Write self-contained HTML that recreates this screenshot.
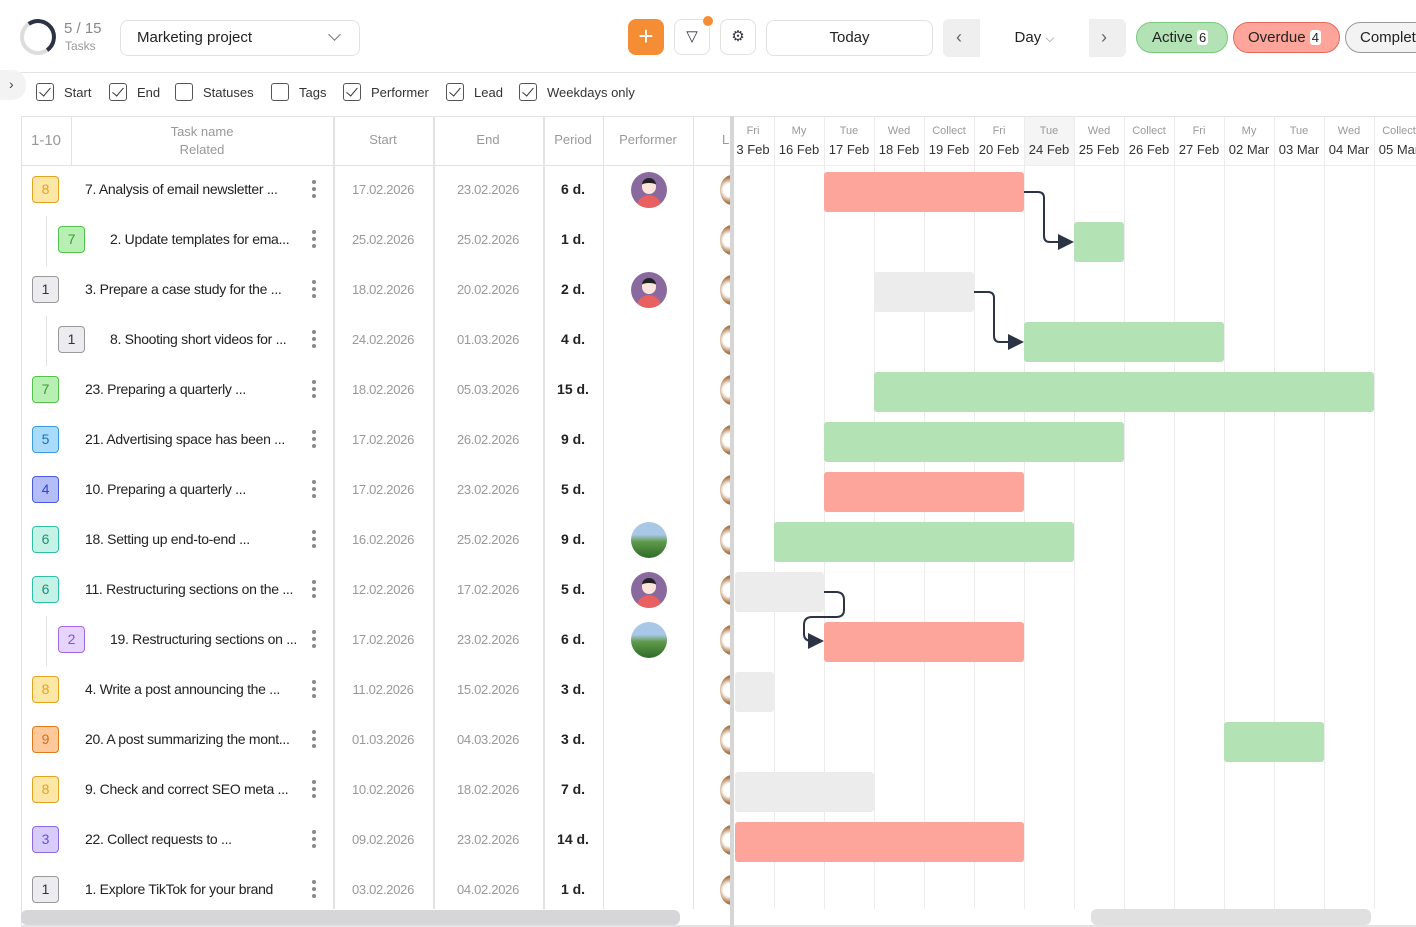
<!DOCTYPE html>
<html><head><meta charset="utf-8"><style>
*{box-sizing:border-box;margin:0;padding:0}
body{width:1416px;height:927px;background:#fff;font-family:"Liberation Sans",sans-serif;color:#222;position:relative;overflow:hidden}
.a{position:absolute}
.btn{position:absolute;border:1px solid #e2e2e2;border-radius:8px;background:#fff}
.cb{position:absolute;top:83px;width:18px;height:18px;border:1.5px solid #555;border-radius:3px}
.cb.on::after{content:"";position:absolute;left:5px;top:1px;width:5px;height:10px;border:solid #333;border-width:0 1.5px 1.5px 0;transform:rotate(40deg)}
.cbl{position:absolute;top:85px;font-size:13px;color:#333}
.vl{position:absolute;width:1px;background:#e3e3e3}
.hd{position:absolute;font-size:13px;color:#999;text-align:center}
.badge{position:absolute;width:27px;height:27px;border-radius:4px;border:1px solid;font-size:14px;text-align:center;line-height:25px}
.name{position:absolute;font-size:14px;color:#222;white-space:nowrap;letter-spacing:-0.3px}
.dt{position:absolute;font-size:13px;color:#999;text-align:center;letter-spacing:-0.3px}
.per{position:absolute;font-size:14px;color:#222;text-align:center;width:60px;left:543px;font-weight:600}
.dots{position:absolute;width:4px;left:312px}
.dots i{display:block;width:4px;height:4px;border-radius:2px;background:#888;margin-bottom:3px}
.bar{position:absolute;height:40px;border-radius:3px}
.pk{background:#fda59a}.gr{background:#b3e2b5}.gy{background:#ececec}
.gh{position:absolute;top:124px;width:50px;text-align:center;font-size:11px;color:#999;line-height:15px}
.gh b{display:block;font-weight:normal;font-size:13px;color:#333;margin-top:3px}
.leadw{position:absolute;left:720px;width:10px;height:30px;overflow:hidden}
.lead{position:absolute;left:0;top:0;width:24px;height:30px;border-radius:50%;background:radial-gradient(circle at 40% 50%,#fff 30%,#b07a4a 60%,#7a4c28)}
</style></head><body>
<div class="a" style="left:20px;top:19px;width:36px;height:36px;border-radius:50%;border:4px solid #ddd"></div>
<div class="a" style="left:20px;top:19px;width:36px;height:36px;border-radius:50%;border:4px solid transparent;border-top-color:#2b3344;border-right-color:#2b3344;transform:rotate(10deg)"></div>
<div class="a" style="left:64px;top:20px;font-size:15px;color:#888">5 / 15</div>
<div class="a" style="left:65px;top:39px;font-size:12px;color:#999">Tasks</div>
<div class="btn" style="left:120px;top:20px;width:240px;height:36px"></div>
<div class="a" style="left:137px;top:29px;font-size:15px;color:#222">Marketing project</div>
<div class="a" style="left:330px;top:30px;width:9px;height:9px;border:solid #777;border-width:0 1.3px 1.3px 0;transform:rotate(45deg)"></div>
<div class="a" style="left:628px;top:19px;width:36px;height:36px;border-radius:8px;background:#f58d34;color:#fff;font-size:26px;text-align:center;line-height:34px">+</div>
<div class="btn" style="left:674px;top:19px;width:36px;height:36px;text-align:center;line-height:34px;font-size:15px;color:#334">&#x25BD;</div>
<div class="a" style="left:703px;top:16px;width:10px;height:10px;border-radius:50%;background:#f58d34"></div>
<div class="btn" style="left:720px;top:19px;width:36px;height:36px;text-align:center;line-height:34px;font-size:15px;color:#334">&#x2699;</div>
<div class="btn" style="left:766px;top:20px;width:167px;height:36px;text-align:center;line-height:34px;font-size:15px">Today</div>
<div class="a" style="left:943px;top:19px;width:183px;height:38px;border-radius:6px;background:#efefef"></div>
<div class="a" style="left:980px;top:19px;width:109px;height:38px;background:#fff;text-align:center;line-height:37px;font-size:15px">Day <span style="color:#888;font-size:12px">&#x2335;</span></div>
<div class="a" style="left:956px;top:27px;font-size:18px;color:#666">&#x2039;</div>
<div class="a" style="left:1101px;top:27px;font-size:18px;color:#666">&#x203A;</div>
<div class="a" style="left:1136px;top:22px;width:92px;height:31px;border-radius:16px;background:#b3e2b5;border:1px solid #7cc77f;font-size:15px;line-height:29px;padding-left:15px">Active <span style="background:#fff;border-radius:3px;padding:0 2px;font-size:13px">6</span></div>
<div class="a" style="left:1233px;top:22px;width:107px;height:31px;border-radius:16px;background:#fda59a;border:1px solid #e06b5d;font-size:15px;line-height:29px;padding-left:14px">Overdue <span style="background:#fff;border-radius:3px;padding:0 2px;font-size:13px">4</span></div>
<div class="a" style="left:1345px;top:22px;width:100px;height:31px;border-radius:16px;background:#f3f3f3;border:1px solid #999;font-size:15px;line-height:29px;padding-left:14px">Complete</div>
<div class="a" style="left:20px;top:72px;width:1396px;height:1px;background:#e3e3e3"></div>
<div class="a" style="left:0;top:70px;width:26px;height:30px;border-radius:0 14px 14px 0;background:#f3f3f3;font-size:14px;line-height:28px;padding-left:9px;color:#444">&#x203A;</div>
<div class="cb on" style="left:36px"></div><div class="cbl" style="left:64px">Start</div>
<div class="cb on" style="left:109px"></div><div class="cbl" style="left:137px">End</div>
<div class="cb" style="left:175px"></div><div class="cbl" style="left:203px">Statuses</div>
<div class="cb" style="left:271px"></div><div class="cbl" style="left:299px">Tags</div>
<div class="cb on" style="left:343px"></div><div class="cbl" style="left:371px">Performer</div>
<div class="cb on" style="left:446px"></div><div class="cbl" style="left:474px">Lead</div>
<div class="cb on" style="left:519px"></div><div class="cbl" style="left:547px">Weekdays only</div>
<div class="vl" style="left:21px;top:116px;height:810px"></div>
<div class="a" style="left:21px;top:116px;width:1395px;height:1px;background:#e3e3e3"></div>
<div class="a" style="left:21px;top:165px;width:712px;height:1px;background:#e3e3e3"></div>
<div class="vl" style="left:71px;top:116px;height:49px"></div>
<div class="vl" style="left:333px;top:116px;height:793px;width:2px"></div>
<div class="vl" style="left:433px;top:116px;height:793px;width:2px"></div>
<div class="vl" style="left:543px;top:116px;height:793px;width:2px"></div>
<div class="vl" style="left:603px;top:116px;height:793px"></div>
<div class="vl" style="left:693px;top:116px;height:793px"></div>
<div class="hd" style="left:21px;top:132px;width:50px;font-size:15px">1-10</div>
<div class="hd" style="left:71px;top:123px;width:262px;line-height:18px">Task name<br>Related</div>
<div class="hd" style="left:333px;top:132px;width:100px">Start</div>
<div class="hd" style="left:433px;top:132px;width:110px">End</div>
<div class="hd" style="left:543px;top:132px;width:60px">Period</div>
<div class="hd" style="left:603px;top:132px;width:90px">Performer</div>
<div class="hd" style="left:722px;top:132px">L</div>
<div class="a" style="left:1024px;top:117px;width:50px;height:48px;background:#f5f5f5"></div>
<div class="a" style="left:735px;top:165px;width:681px;height:1px;background:#eee"></div>
<div id="g"></div>
<div class="vl" style="left:46px;top:216px;height:50px"></div>
<div class="vl" style="left:46px;top:316px;height:50px"></div>
<div class="vl" style="left:46px;top:616px;height:50px"></div>
<div class="a" style="left:21px;top:910px;width:659px;height:15px;border-radius:6px;background:#d6d6d9"></div>
<div class="a" style="left:1091px;top:909px;width:280px;height:16px;border-radius:6px;background:#e0e0e0"></div>
<div class="a" style="left:21px;top:925px;width:1395px;height:2px;background:#e3e3e3"></div>
<svg class="a" style="left:0;top:0" width="1416" height="927">
<defs><marker id="ar" markerWidth="8" markerHeight="8" refX="7" refY="4" orient="auto"><path d="M0,0L8,4L0,8z" fill="#2b3344"/></marker></defs>
<g fill="none" stroke="#2b3344" stroke-width="2">
<path d="M1024,192H1038Q1044,192 1044,198V236Q1044,242 1050,242H1072" marker-end="url(#ar)"/>
<path d="M974,292H988Q994,292 994,298V336Q994,342 1000,342H1022" marker-end="url(#ar)"/>
<path d="M824,592H836Q844,592 844,600V610Q844,617 836,617H812Q804,617 804,625V634Q804,641 812,641H822" marker-end="url(#ar)"/>
</g></svg>
<script>
var g=document.getElementById('g'),h='';
var cols=[[735,'Fri','3 Feb'],[774,'My','16 Feb'],[824,'Tue','17 Feb'],[874,'Wed','18 Feb'],[924,'Collect','19 Feb'],[974,'Fri','20 Feb'],[1024,'Tue','24 Feb'],[1074,'Wed','25 Feb'],[1124,'Collect','26 Feb'],[1174,'Fri','27 Feb'],[1224,'My','02 Mar'],[1274,'Tue','03 Mar'],[1324,'Wed','04 Mar'],[1374,'Collect','05 Mar']];
cols.forEach(function(c,i){var x=c[0];if(i==0){h+='<div class="gh" style="left:733px;width:40px">'+c[1]+'<b>'+c[2]+'</b></div>';}else{h+='<div class="a" style="left:'+x+'px;top:117px;width:1px;height:792px;background:#ececec"></div><div class="gh" style="left:'+x+'px">'+c[1]+'<b>'+c[2]+'</b></div>';}});
var rows=[
['8','#fde7a6','#e0a420','#e0a420',0,'7. Analysis of email newsletter ...','17.02.2026','23.02.2026','6 d.','p','pk',824,1024],
['7','#b8f0b4','#52c04a','#3a9a33',1,'2. Update templates for ema...','25.02.2026','25.02.2026','1 d.','','gr',1074,1124],
['1','#ececf0','#999','#333',0,'3. Prepare a case study for the ...','18.02.2026','20.02.2026','2 d.','p','gy',874,974],
['1','#ececf0','#999','#333',1,'8. Shooting short videos for ...','24.02.2026','01.03.2026','4 d.','','gr',1024,1224],
['7','#b8f0b4','#52c04a','#3a9a33',0,'23. Preparing a quarterly ...','18.02.2026','05.03.2026','15 d.','','gr',874,1374],
['5','#a9dcfb','#3d9be0','#1f6fb8',0,'21. Advertising space has been ...','17.02.2026','26.02.2026','9 d.','','gr',824,1124],
['4','#b4bdf8','#4b5be0','#3344c0',0,'10. Preparing a quarterly ...','17.02.2026','23.02.2026','5 d.','','pk',824,1024],
['6','#c4f2e6','#2fbfa3','#1f8f78',0,'18. Setting up end-to-end ...','16.02.2026','25.02.2026','9 d.','l','gr',774,1074],
['6','#c4f2e6','#2fbfa3','#1f8f78',0,'11. Restructuring sections on the ...','12.02.2026','17.02.2026','5 d.','p','gy',735,824],
['2','#e5d4fd','#a36ae8','#8a4fd6',1,'19. Restructuring sections on ...','17.02.2026','23.02.2026','6 d.','l','pk',824,1024],
['8','#fde7a6','#e0a420','#e0a420',0,'4. Write a post announcing the ...','11.02.2026','15.02.2026','3 d.','','gy',735,774],
['9','#fdc89a','#e07a1a','#d4701a',0,'20. A post summarizing the mont...','01.03.2026','04.03.2026','3 d.','','gr',1224,1324],
['8','#fde7a6','#e0a420','#e0a420',0,'9. Check and correct SEO meta ...','10.02.2026','18.02.2026','7 d.','','gy',735,874],
['3','#d8ccfd','#8a6ae8','#6a4fd6',0,'22. Collect requests to ...','09.02.2026','23.02.2026','14 d.','','pk',735,1024],
['1','#ececf0','#999','#333',0,'1. Explore TikTok for your brand','03.02.2026','04.02.2026','1 d.','','',0,0]];
rows.forEach(function(r,i){var y=165+i*50,cy=y+25;var bx=r[4]?58:32;
h+='<div class="badge" style="left:'+bx+'px;top:'+(cy-14)+'px;background:'+r[1]+';border-color:'+r[2]+';color:'+r[3]+'">'+r[0]+'</div>';
h+='<div class="name" style="left:'+(r[4]?110:85)+'px;top:'+(cy-9)+'px">'+r[5]+'</div>';
h+='<div class="dots" style="top:'+(cy-10)+'px"><i></i><i></i><i></i></div>';
h+='<div class="dt" style="left:333px;width:100px;top:'+(cy-8)+'px">'+r[6]+'</div>';
h+='<div class="dt" style="left:433px;width:110px;top:'+(cy-8)+'px">'+r[7]+'</div>';
h+='<div class="per" style="top:'+(cy-9)+'px">'+r[8]+'</div>';
if(r[9]=='p')h+='<div class="a" style="left:631px;top:'+(cy-18)+'px;width:36px;height:36px;border-radius:50%;background:#8a6a9e;overflow:hidden"><div class="a" style="left:11px;top:6px;width:14px;height:16px;border-radius:7px;background:#fde4dc;border-top:5px solid #222"></div><div class="a" style="left:6px;top:23px;width:24px;height:16px;border-radius:12px 12px 0 0;background:#e86060"></div></div>';
if(r[9]=='l')h+='<div class="a" style="left:631px;top:'+(cy-18)+'px;width:36px;height:36px;border-radius:50%;background:linear-gradient(180deg,#a9c8e8 0%,#a9c8e8 35%,#5f9a4a 55%,#2e6a2a 100%)"></div>';
h+='<div class="leadw" style="top:'+(cy-15)+'px"><div class="lead"></div></div>';
if(r[10])h+='<div class="bar '+r[10]+'" style="left:'+r[11]+'px;width:'+(r[12]-r[11])+'px;top:'+(y+7)+'px"></div>';
});
g.innerHTML=h;
</script>
<div class="a" style="left:730px;top:116px;width:4px;height:811px;background:#d6d6d6"></div>
</body></html>
